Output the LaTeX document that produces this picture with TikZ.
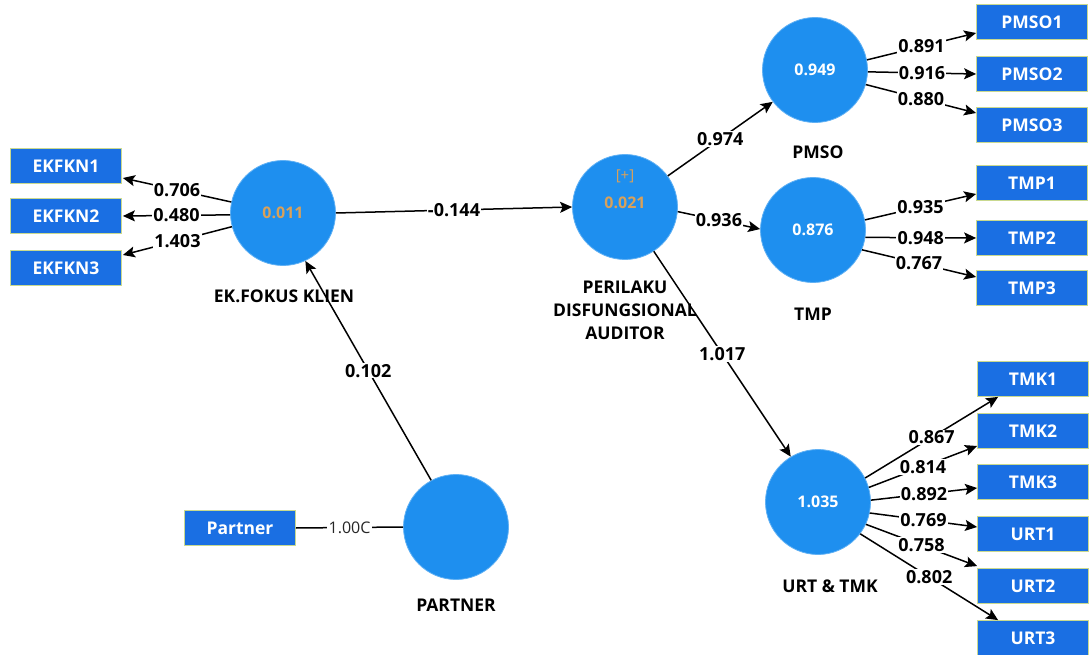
\documentclass[tikz,border=0pt]{standalone}
\usepackage{fontspec}
\setmainfont{Open Sans}
\usetikzlibrary{arrows.meta,calc}
\definecolor{lvblue}{HTML}{1E8FEF}
\definecolor{mvblue}{HTML}{1A6FE3}
\definecolor{mvedge}{HTML}{C9D98F}
\definecolor{rtan}{HTML}{D9A15A}
\begin{document}
\begin{tikzpicture}[x=1pt,y=-1pt,
  lv/.style={circle,fill=lvblue,draw=lvblue!70!white,line width=0.8pt,minimum size=105pt,inner sep=0pt,text=white,font=\fontsize{16}{16}\selectfont\bfseries},
  mv/.style={rectangle,fill=mvblue,draw=mvedge,line width=0.8pt,minimum width=111pt,minimum height=35pt,inner sep=0pt,text=white,font=\fontsize{17.5}{17.5}\selectfont\bfseries},
  lvname/.style={font=\fontsize{17.5}{23}\selectfont\bfseries,align=center,text=black},
  wt/.style={fill=white,inner sep=1.2pt,font=\fontsize{18}{18}\selectfont\bfseries,text=black},
  link/.style={line width=1.5pt,black},
  arr/.style={link,-{Stealth[length=12pt,width=11pt,inset=2.5pt]}}
]
\useasboundingbox (0,0) rectangle (1090,655);

% latent variables
\node[lv,text=rtan] (ek) at (283,213) {0.011};
\node[lv] (pda) at (625,207) {};
\node[text=rtan,font=\fontsize{15}{15}\selectfont] (pdaplus) at (625,176) {[+]};
\node[text=rtan,font=\fontsize{16}{16}\selectfont\bfseries] (pdaval) at (625,203) {0.021};
\node[lv] (pmso) at (815,70) {0.949};
\node[lv] (tmp) at (813,230) {0.876};
\node[lv] (urt) at (818,502) {1.035};
\node[lv] (partner) at (456,527) {};

% construct names
\node[lvname] (ekc) at (284,296) {EK.FOKUS KLIEN};
\node[lvname] (pdac) at (625,310) {PERILAKU\\DISFUNGSIONAL\\AUDITOR};
\node[lvname] (pmsoc) at (818,152) {PMSO};
\node[lvname] (tmpc) at (813,314) {TMP};
\node[lvname] (urtc) at (830,586) {URT \& TMK};
\node[lvname] (partc) at (456,605) {PARTNER};

% indicators
\node[mv] (ekfkn1) at (66,166) {EKFKN1};
\node[mv] (ekfkn2) at (66,216) {EKFKN2};
\node[mv] (ekfkn3) at (66,268) {EKFKN3};
\node[mv] (pmso1) at (1032,22) {PMSO1};
\node[mv] (pmso2) at (1032,74) {PMSO2};
\node[mv] (pmso3) at (1032,125) {PMSO3};
\node[mv] (tmp1) at (1032,183) {TMP1};
\node[mv] (tmp2) at (1032,238) {TMP2};
\node[mv] (tmp3) at (1032,288) {TMP3};
\node[mv] (tmk1) at (1033,379) {TMK1};
\node[mv] (tmk2) at (1033,431) {TMK2};
\node[mv] (tmk3) at (1033,482) {TMK3};
\node[mv] (urt1) at (1033,534) {URT1};
\node[mv] (urt2) at (1033,586) {URT2};
\node[mv] (urt3) at (1033,638) {URT3};
\node[mv] (partnerbox) at (240,528) {Partner};

% structural paths
\draw[arr] (ek.east) -- node[wt] {-0.144} (pda.west);
\draw[arr] (partner.118) -- node[wt] {0.102} (ek.-65);
\draw[arr] (pda.36) -- node[wt] {0.974} (pmso.217);
\draw[arr] (pda.-5) -- node[wt] {0.936} (tmp.179);
\draw[arr] (pda.-57) -- node[wt] {1.017} (urt.121);

% outer loadings
\draw[arr] (ek.168) -- node[wt] {0.706} ($(ekfkn1.east)+(1,12)$);
\draw[arr] (ek.182) -- node[wt] {0.480} ($(ekfkn2.east)+(1,0)$);
\draw[arr] (ek.195) -- node[wt] {1.403} ($(ekfkn3.east)+(1,-13)$);

\draw[arr] (pmso.11) -- node[wt] {0.891} ($(pmso1.west)+(0,11)$);
\draw[arr] (pmso.-2) -- node[wt] {0.916} (pmso2.west);
\draw[arr] (pmso.-16) -- node[wt] {0.880} ($(pmso3.west)+(0,-12)$);

\draw[arr] (tmp.11) -- node[wt] {0.935} ($(tmp1.west)+(0,11)$);
\draw[arr] (tmp.-8) -- node[wt] {0.948} (tmp2.west);
\draw[arr] (tmp.-22) -- node[wt] {0.767} ($(tmp3.west)+(0,-11)$);

\draw[arr] (urt.27) -- node[wt] {0.867} ($(tmk1.south west)+(21,0)$);
\draw[arr] (urt.16) -- node[wt] {0.814} ($(tmk2.west)+(0,15)$);
\draw[arr] (urt.2) -- node[wt] {0.892} ($(tmk3.west)+(0,6)$);
\draw[arr] (urt.-12) -- node[wt] {0.769} ($(urt1.west)+(0,-7)$);
\draw[arr] (urt.-25) -- node[wt] {0.758} ($(urt2.north west)+(0,-2)$);
\draw[arr] (urt.-37) -- node[wt] {0.802} ($(urt3.north west)+(21,0)$);

\draw[link] (partnerbox.east) -- node[fill=white,inner sep=1.2pt,text=black!85,font=\fontsize{16}{16}\selectfont] {1.00C} (partner.west);
\end{tikzpicture}
\end{document}
